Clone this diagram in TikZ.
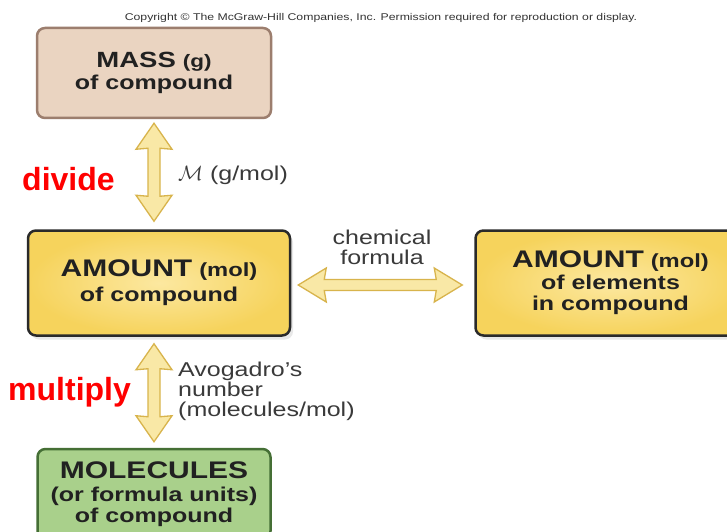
\documentclass[tikz,border=0pt]{standalone}
\usepackage{xcolor}
\usepackage{amsmath}
\usepackage{fontspec}
\setmainfont{Liberation Sans}
\newfontfamily\widefont[FakeStretch=1.25]{Liberation Sans}
\usepackage{tikz}
\usetikzlibrary{positioning,calc,shadows}

\definecolor{masstan}{HTML}{EAD4C1}
\definecolor{massedge}{HTML}{9C7E6E}
\definecolor{molyellow}{HTML}{F6D35C}
\definecolor{molyellowlt}{HTML}{FCE8A0}
\definecolor{boxedge}{HTML}{2A2A2A}
\definecolor{molgreen}{HTML}{A9D08B}
\definecolor{greenedge}{HTML}{456F35}
\definecolor{arrowfill}{HTML}{F9E8A6}
\definecolor{arrowedge}{HTML}{D8B44C}
\definecolor{lbltext}{HTML}{3A3A3A}

\newcommand{\boxcaps}{\fontsize{24}{25}\selectfont}
\newcommand{\boxunit}{\fontsize{19}{25}\selectfont}
\newcommand{\boxsub}{\fontsize{20}{25}\selectfont}

% double headed arrows between two named tips
\newcommand{\vdblarrow}[2]{%
  \draw[dblarrow] let \p1=(#1), \p2=(#2) in
    (\x1,\y1) -- (\x1+18pt,\y1-26pt) -- (\x1+6pt,\y1-25pt) -- (\x1+6pt,\y2+25pt)
    -- (\x1+18pt,\y2+26pt) -- (\x1,\y2) -- (\x1-18pt,\y2+26pt) -- (\x1-6pt,\y2+25pt)
    -- (\x1-6pt,\y1-25pt) -- (\x1-18pt,\y1-26pt) -- cycle;}
\newcommand{\hdblarrow}[2]{%
  \draw[dblarrow] let \p1=(#1), \p2=(#2) in
    (\x1,\y1) -- (\x1+28pt,\y1+17pt) -- (\x1+26pt,\y1+5.5pt) -- (\x2-26pt,\y1+5.5pt)
    -- (\x2-28pt,\y1+17pt) -- (\x2,\y1) -- (\x2-28pt,\y1-17pt) -- (\x2-26pt,\y1-5.5pt)
    -- (\x1+26pt,\y1-5.5pt) -- (\x1+28pt,\y1-17pt) -- cycle;}

\tikzset{
  box/.style={rounded corners=8pt, line width=2.5pt, align=center, inner sep=0pt,
    font=\widefont\bfseries\boxsub, text=black!87},
  massbox/.style={box, draw=massedge, fill=masstan, minimum width=234pt, minimum height=90pt},
  amtbox/.style={box, draw=boxedge, inner color=molyellowlt, outer color=molyellow,
    minimum width=262pt, minimum height=105pt,
    drop shadow={opacity=0.18, shadow xshift=3pt, shadow yshift=-4pt}},
  molbox/.style={box, draw=greenedge, fill=molgreen, minimum width=233pt, minimum height=90pt},
  dblarrow/.style={draw=arrowedge, line width=1.3pt, fill=arrowfill, line join=miter},
  lbl/.style={font=\widefont\fontsize{20}{20}\selectfont, text=lbltext, inner sep=0pt},
  redlbl/.style={font=\bfseries\fontsize{32}{32}\selectfont, text=red, inner sep=0pt},
}

\begin{document}
\begin{tikzpicture}[x=1pt, y=1pt]
  \fill[white] (0,0) rectangle (727,531);
  \useasboundingbox (0,0) rectangle (727,531);

  % boxes
  \node[massbox] (mass) at (154,458)
    {{\fontsize{22}{25}\selectfont MASS} {\fontsize{18}{25}\selectfont(g)}\\[-3pt]of compound};
  \node[amtbox, below=110pt of mass, xshift=5pt] (amtc)
    {{\boxcaps AMOUNT} {\boxunit(mol)}\\of compound};
  \node[amtbox, right=183pt of amtc, minimum width=270pt] (amte)
    {{\boxcaps AMOUNT} {\boxunit(mol)}\\[-3pt]of elements\\[-4pt]in compound};
  \node[molbox, below=111pt of amtc, xshift=-5pt] (mol)
    {{\boxcaps MOLECULES}\\[-2pt](or formula units)\\[-4pt]of compound};

  % arrow tips
  \coordinate (m1) at ($(mass.south)+(0,-4)$);
  \coordinate (m2) at ($(amtc.north -| mass.south)+(0,8)$);
  \coordinate (c1) at ($(amtc.east)+(7,-2)$);
  \coordinate (c2) at ($(amte.west)+(-12,-2)$);
  \coordinate (a1) at ($(amtc.south -| mass.south)+(0,-7)$);
  \coordinate (a2) at ($(mol.north)+(0,6)$);

  \vdblarrow{m1}{m2}
  \hdblarrow{c1}{c2}
  \vdblarrow{a1}{a2}

  % labels
  \node[redlbl, anchor=base west] (divide) at (22,341) {divide};
  \node[lbl, anchor=base west] (molarmass) at (178,351) {$\mathcal{M}$ (g/mol)};
  \node[lbl, align=center] (chemf) at (382,284) {chemical\\formula};
  \node[lbl, align=left, anchor=north west] (avog) at (178,169)
    {Avogadro’s\\number\\(molecules/mol)};
  \node[redlbl, anchor=base west] (multiply) at (8,131) {multiply};
  \node[font=\widefont\fontsize{9.8}{12}\selectfont, text=black!80] (copyr) at (381,513)
    {Copyright © The McGraw-Hill Companies, Inc. Permission required for reproduction or display.};
\end{tikzpicture}
\end{document}
